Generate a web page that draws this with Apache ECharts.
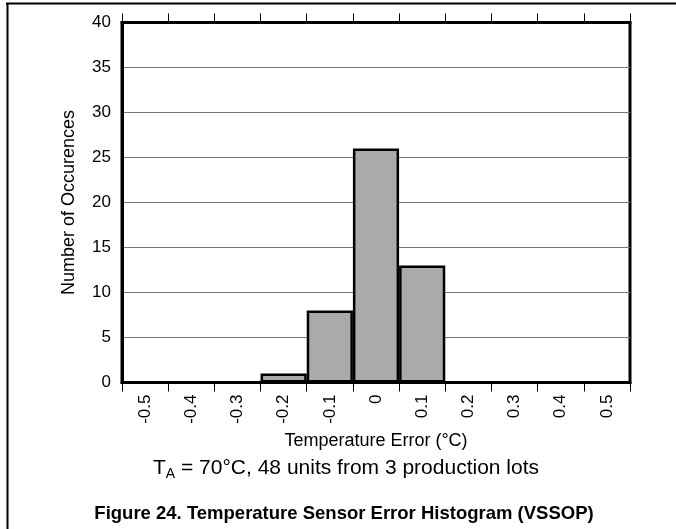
<!DOCTYPE html>
<html>
<head>
<meta charset="utf-8">
<script src="https://cdn.jsdelivr.net/npm/echarts@6/dist/echarts.min.js"></script>
<style>
html,body{margin:0;padding:0;background:#fff;}
#c{width:676px;height:529px;}
</style>
</head>
<body>
<div id="c"></div>
<script>
const categories = ['-0.5','-0.4','-0.3','-0.2','-0.1','0','0.1','0.2','0.3','0.4','0.5'];
const counts = [0, 0, 0, 1, 8, 26, 13, 0, 0, 0, 0];
const yMin = 0, yMax = 40, yStep = 5;
const xTitle = 'Temperature Error (°C)';
const yTitle = 'Number of Occurences';
const noteMain = ' = 70°C, 48 units from 3 production lots';
const figTitle = 'Figure 24. Temperature Sensor Error Histogram (VSSOP)';

const FONT = '"Liberation Sans", Arial, sans-serif';
const chart = echarts.init(document.getElementById('c'), null, {renderer: 'canvas'});
chart.setOption({
  animation: false,
  backgroundColor: '#fff',
  textStyle: {fontFamily: FONT},
  grid: {left: 122, right: 46, top: 22.5, bottom: 146.5, show: true, borderColor: '#000', borderWidth: 3, backgroundColor: 'transparent'},
  graphic: [
    {type: 'line', shape: {x1: 6, y1: 3.5, x2: 676, y2: 3.5}, style: {stroke: '#000', lineWidth: 2}, silent: true},
    {type: 'line', shape: {x1: 7.5, y1: 3, x2: 7.5, y2: 529}, style: {stroke: '#000', lineWidth: 2}, silent: true},
    {
      type: 'text', x: 346, y: 468, silent: true,
      style: {
        text: '{t|T}{s|A}{t|' + noteMain + '}',
        align: 'center', verticalAlign: 'middle',
        rich: {
          t: {fontFamily: FONT, fontSize: 21, fontWeight: 'normal', fill: '#000', lineHeight: 26, verticalAlign: 'middle'},
          s: {fontFamily: FONT, fontSize: 14, fontWeight: 'normal', fill: '#000', lineHeight: 16, verticalAlign: 'bottom'}
        }
      }
    },
    {
      type: 'text', x: 344, y: 514, silent: true,
      style: {
        text: figTitle, align: 'center', verticalAlign: 'middle',
        fontFamily: FONT, fontSize: 18.5, fontWeight: 'bold', fill: '#000'
      }
    }
  ],
  xAxis: [
    {
      type: 'category', data: categories, position: 'bottom',
      boundaryGap: true,
      name: xTitle, nameLocation: 'middle', nameGap: 50,
      nameTextStyle: {fontFamily: FONT, fontSize: 18, color: '#000'},
      axisLine: {show: true, lineStyle: {color: '#000', width: 3}},
      axisTick: {show: true, inside: false, length: 9, lineStyle: {color: '#000', width: 1}},
      axisLabel: {rotate: 90, margin: 12, fontFamily: FONT, fontSize: 17, color: '#000'},
      splitLine: {show: false}
    },
    {
      type: 'category', data: categories, position: 'top',
      boundaryGap: true,
      axisLine: {show: true, lineStyle: {color: '#000', width: 3}},
      axisTick: {show: true, inside: false, length: 9, lineStyle: {color: '#000', width: 1}},
      axisLabel: {show: false},
      splitLine: {show: false}
    }
  ],
  yAxis: {
    type: 'value', min: yMin, max: yMax, interval: yStep,
    name: yTitle, nameLocation: 'middle', nameGap: 44,
    nameTextStyle: {fontFamily: FONT, fontSize: 18, color: '#000'},
    axisLine: {show: true, lineStyle: {color: '#000', width: 3}},
    axisTick: {show: false},
    axisLabel: {margin: 11, fontFamily: FONT, fontSize: 17, color: '#000'},
    splitLine: {show: true, lineStyle: {color: '#777', width: 1}}
  },
  series: [{
    type: 'bar', data: counts, xAxisIndex: 0,
    barCategoryGap: '0%', barGap: '0%',
    itemStyle: {color: '#aaaaaa', borderColor: '#000', borderWidth: 2.5},
    z: 3
  }]
});
</script>
</body>
</html>
